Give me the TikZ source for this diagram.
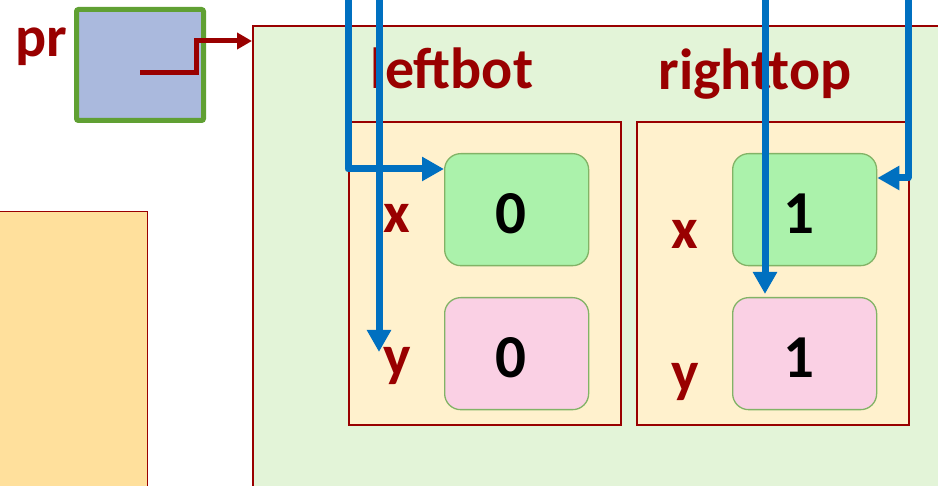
\documentclass[tikz,border=0pt]{standalone}
\usepackage{fontspec}
\setmainfont{Carlito}
\usepackage{xcolor}
\usepackage{tikz}
\usetikzlibrary{
    arrows.meta,
    positioning,
    calc
}
\definecolor{darkred}{HTML}{990000}
\definecolor{ptrblue}{HTML}{0070C0}
\definecolor{prfill}{HTML}{AAB9DD}
\definecolor{prborder}{HTML}{60A033}
\definecolor{framefill}{HTML}{E3F4D8}
\definecolor{heapfill}{HTML}{FFE09C}
\definecolor{structfill}{HTML}{FFF1CD}
\definecolor{xfill}{HTML}{ABF2AB}
\definecolor{yfill}{HTML}{FAD0E4}
\definecolor{valborder}{HTML}{82B366}
\newcommand{\bigbold}{\fontsize{58}{60}\selectfont\bfseries}
\newcommand{\digitbold}{\fontsize{61}{63}\selectfont\bfseries}
\tikzset{
    prvar/.style={
        draw=prborder,
        line width=5pt,
        rounded corners=2pt,
        minimum width=127pt,
        minimum height=111pt,
        fill=prfill
    }
}
\tikzset{
    callframe/.style={
        draw=darkred,
        line width=2pt,
        minimum width=760pt,
        minimum height=520pt,
        fill=framefill
    }
}
\tikzset{
    heaparea/.style={
        draw=darkred,
        line width=1.5pt,
        minimum width=170pt,
        minimum height=300pt,
        fill=heapfill
    }
}
\tikzset{
    structbox/.style={
        draw=darkred,
        line width=2pt,
        minimum width=272pt,
        minimum height=303pt,
        fill=structfill
    }
}
\tikzset{
    valbox/.style={
        draw=valborder,
        line width=1.3pt,
        rounded corners=16pt,
        minimum width=144pt,
        minimum height=112pt,
        text height=48pt,
        text depth=0pt,
        font=\digitbold,
        execute at begin node=\hspace*{-12pt}
    }
}
\tikzset{
    fieldlabel/.style={
        text=darkred,
        inner sep=0pt,
        anchor=base,
        font=\bigbold
    }
}
\tikzset{
    bluePtr/.style={
        draw=ptrblue,
        line width=7pt,
        line join=round,
        -{Triangle[length=22pt,width=23pt]}
    }
}
\tikzset{
    redPtr/.style={
        draw=darkred,
        line width=5pt,
        -{Triangle[length=15pt,width=16pt]}
    }
}

\begin{document}
\begin{tikzpicture}[
    x=1pt,
    y=-1pt
]

\useasboundingbox (0,0) rectangle (938,486);
\clip (0,0) rectangle (938,486);

% ------------------------------------------------------------
% Frame, heap and the variable pr
% ------------------------------------------------------------

\node[callframe, anchor=north west] (frame) at (252,25) {};

\node[heaparea, anchor=north east] (heap) at (148,211) {};

\node[prvar] (prbox) at (140,65) {};

\node[fieldlabel, anchor=base east] (prlabel) at (67,57) {pr};

% ------------------------------------------------------------
% Struct members
% ------------------------------------------------------------

\node[fieldlabel] (leftbotlabel) at (452,89) {leftbot};
\node[fieldlabel] (righttoplabel) at (755,90) {righttop};

\node[structbox, anchor=north west] (leftbot) at (348,121) {};
\node[structbox, anchor=north west] (righttop) at (636,121) {};

\node[valbox, fill=xfill, anchor=north west] (leftx) at (444,153) {0};
\node[valbox, fill=yfill, anchor=north west] (lefty) at (444,297) {0};
\node[valbox, fill=xfill, anchor=north west] (rightx) at (732,153) {1};
\node[valbox, fill=yfill, anchor=north west] (righty) at (732,297) {1};

\node[fieldlabel] (leftxlabel) at (397,233) {x};
\node[fieldlabel] (leftylabel) at (397,376) {y};
\node[fieldlabel] (rightxlabel) at (685,249) {x};
\node[fieldlabel] (rightylabel) at (685,392) {y};

% ------------------------------------------------------------
% Pointer from pr to the frame
% ------------------------------------------------------------

\coordinate (prstart) at (140,73);

\draw[redPtr]
    (prstart) -- ++(56,0) |- ([yshift=-16pt]frame.north west);

% ------------------------------------------------------------
% Incoming pointers
% ------------------------------------------------------------

\coordinate (inA) at (348,-10);
\coordinate (inB) at (379,-10);
\coordinate (inC) at (765,-10);
\coordinate (inD) at (908,-10);
\coordinate (leftyend) at (379,352);

\draw[bluePtr]
    (inA) |- ([yshift=-16pt]leftx.north west);

\draw[bluePtr]
    (inB) -- (leftyend);

\draw[bluePtr]
    (inC) -- ([yshift=3pt]inC |- righty.north);

\draw[bluePtr]
    (inD) |- ([yshift=-25pt]rightx.north east);

\end{tikzpicture}
\end{document}
